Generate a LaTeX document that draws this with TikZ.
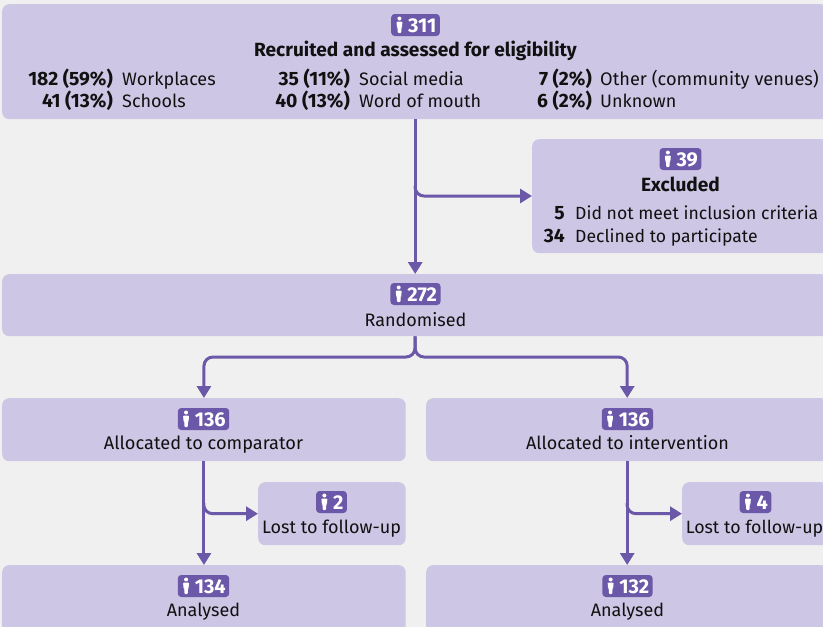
\documentclass[tikz,border=0pt]{standalone}
\usepackage{fontspec}
\setmainfont{Fira Sans}
\usetikzlibrary{arrows.meta}
\definecolor{bgc}{HTML}{F0F0F0}
\definecolor{boxc}{HTML}{CDC6E4}
\definecolor{purp}{HTML}{6B58A8}
\definecolor{inkc}{HTML}{111111}
\tikzset{
  x=1pt,y=-1pt,
  flowbox/.style={fill=boxc,draw=none,rounded corners=7pt,inner sep=0pt,anchor=north west},
  badge/.style={fill=purp,text=white,rounded corners=3.5pt,inner xsep=3.5pt,inner ysep=0pt,minimum height=22pt,font=\fontsize{20}{20}\selectfont\bfseries,text height=14pt,text depth=0pt},
  txt/.style={inner sep=0pt,text=inkc,font=\fontsize{18}{20}\selectfont},
  num/.style={txt,anchor=base east,font=\fontsize{19.3}{20}\selectfont\bfseries},
  lab/.style={txt,anchor=base west},
  ctr/.style={txt,anchor=base},
  ctrb/.style={ctr,font=\fontsize{19.1}{20}\selectfont\bfseries},
  flow/.style={draw=purp,line width=3pt,-{Triangle[length=12pt,width=14pt]}},
  flowr/.style={flow,rounded corners=9pt},
}
\newcommand{\mkbadge}[4]{%
  \node[badge] (#1) at (#2,#3) {\hspace{13.5pt}#4};
  \fill[white] ([xshift=8.5pt,yshift=6.5pt]#1.west) circle (2pt);
  \fill[white,rounded corners=1pt] ([xshift=5.5pt,yshift=3.5pt]#1.west) -- ([xshift=11.5pt,yshift=3.5pt]#1.west) -- ([xshift=11pt,yshift=-2.5pt]#1.west) -- ([xshift=10.3pt,yshift=-2.5pt]#1.west) -- ([xshift=10.3pt,yshift=-8pt]#1.west) -- ([xshift=6.7pt,yshift=-8pt]#1.west) -- ([xshift=6.7pt,yshift=-2.5pt]#1.west) -- ([xshift=6pt,yshift=-2.5pt]#1.west) -- cycle;
}
\begin{document}
\begin{tikzpicture}
\useasboundingbox (0,0) rectangle (823,627);
\clip (0,0) rectangle (823,627);
\fill[bgc] (0,0) rectangle (823,627);
% boxes
\node[flowbox,minimum width=826pt,minimum height=115pt] (top) at (2,4) {};
\node[flowbox,minimum width=296pt,minimum height=114pt] (excl) at (532,139) {};
\node[flowbox,minimum width=826pt,minimum height=62pt] (rand) at (2,274) {};
\node[flowbox,minimum width=403.5pt,minimum height=63pt] (comp) at (2,398) {};
\node[flowbox,minimum width=402pt,minimum height=63pt] (intv) at (426,398) {};
\node[flowbox,minimum width=147.5pt,minimum height=63pt] (lostc) at (258,482) {};
\node[flowbox,minimum width=146pt,minimum height=63pt] (losti) at (682,482) {};
\node[flowbox,minimum width=403.5pt,minimum height=80pt] (anac) at (2,565) {};
\node[flowbox,minimum width=402pt,minimum height=80pt] (anai) at (426,565) {};
% connectors
\coordinate (exit1) at (415,186);
\coordinate (split) at (415,357);
\draw[flow] (top.south) -- (rand.north);
\draw[flowr] (exit1) |- (excl.west |- 0,196);
\draw[flowr] (rand.south) -- (split) -| (comp.north);
\draw[flowr] (rand.south) -- (split) -| (intv.north);
\draw[flow] (comp.south) -- (anac.north -| comp.south);
\draw[flow] (intv.south) -- (anai.north -| intv.south);
\coordinate (exit2) at (203.75,503);
\coordinate (exit3) at (627,503);
\draw[flowr] (exit2) |- (lostc.west);
\draw[flowr] (exit3) |- (losti.west);
% top box
\mkbadge{b311}{415.5}{25}{311}
\node[ctrb] (t1) at (415.5,56) {Recruited and assessed for eligibility};
\node[num] (n1) at (113,85) {182 (59\%)};
\node[lab] (l1) at (122,85) {Workplaces};
\node[num] (n2) at (113,107) {41 (13\%)};
\node[lab] (l2) at (122,107) {Schools};
\node[num] (n3) at (350,85) {35 (11\%)};
\node[lab] (l3) at (359,85) {Social media};
\node[num] (n4) at (350,107) {40 (13\%)};
\node[lab] (l4) at (359,107) {Word of mouth};
\node[num] (n5) at (592,85) {7 (2\%)};
\node[lab,font=\fontsize{18.2}{20}\selectfont] (l5) at (600,85) {Other (community venues)};
\node[num] (n6) at (592,107) {6 (2\%)};
\node[lab] (l6) at (600,107) {Unknown};
% excluded
\mkbadge{b39}{680.5}{159}{39}
\node[ctrb] (t2) at (680.5,191) {Excluded};
\node[num] (n7) at (565,219) {5};
\node[lab,font=\fontsize{17.6}{20}\selectfont] (l7) at (575,219) {Did not meet inclusion criteria};
\node[num] (n8) at (565,242) {34};
\node[lab,font=\fontsize{17.6}{20}\selectfont] (l8) at (575,242) {Declined to participate};
% randomised
\mkbadge{b272}{415.5}{294}{272}
\node[ctr] (t3) at (415.5,326) {Randomised};
% allocated
\mkbadge{b136a}{203.5}{419}{136}
\node[ctr,font=\fontsize{18.2}{20}\selectfont] (t4) at (203.5,449) {Allocated to comparator};
\mkbadge{b136b}{627.5}{419}{136}
\node[ctr] (t5) at (627.5,449) {Allocated to intervention};
% lost
\mkbadge{b2}{331.5}{502}{2}
\node[ctr] (t6) at (331.5,533) {Lost to follow-up};
\mkbadge{b4}{755.5}{502}{4}
\node[ctr,font=\fontsize{17.8}{20}\selectfont] (t7) at (754.5,533) {Lost to follow-up};
% analysed
\mkbadge{b134}{203.5}{586}{134}
\node[ctr] (t8) at (203.5,616) {Analysed};
\mkbadge{b132}{627.5}{586}{132}
\node[ctr] (t9) at (627.5,616) {Analysed};
\end{tikzpicture}
\end{document}
